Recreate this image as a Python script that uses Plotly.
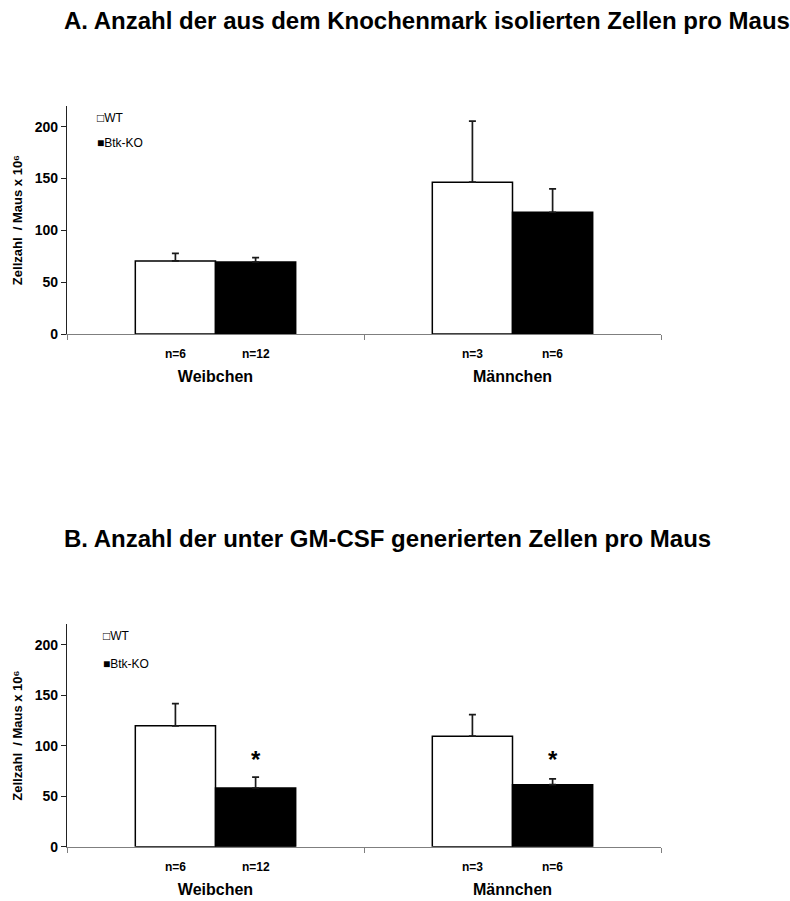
import plotly.graph_objects as go

# ---------------- data ----------------
categories = ["Weibchen", "Männchen"]
group_names = ["WT", "Btk-KO"]
legend_marks = ["□", "■"]

# Panel A: Anzahl der aus dem Knochenmark isolierten Zellen pro Maus
a_wt = [70.5, 146.5]
a_wt_err = [7.3, 59.0]
a_ko = [69.5, 117.5]
a_ko_err = [4.2, 22.5]
a_n_wt = ["n=6", "n=3"]
a_n_ko = ["n=12", "n=6"]

# Panel B: Anzahl der unter GM-CSF generierten Zellen pro Maus
b_wt = [119.6, 109.4]
b_wt_err = [22.0, 21.3]
b_ko = [58.1, 61.4]
b_ko_err = [10.8, 5.8]
b_n_wt = ["n=6", "n=3"]
b_n_ko = ["n=12", "n=6"]
b_sig_ko = ["*", "*"]
star_level = 94

y_ticks = [0, 50, 100, 150, 200]
y_max = 220

title_a = "A. Anzahl der aus dem Knochenmark isolierten Zellen pro Maus"
title_b = "B. Anzahl der unter GM-CSF generierten Zellen pro Maus"
y_title = "Zellzahl  / Maus x 10⁶"

# ---------------- figure ----------------
W, H = 790, 901
FONT = "Arial, Liberation Sans, sans-serif"

fig = go.Figure()

def px_x(p):
    return p / W

def px_y(p):
    return 1 - p / H

panels = [
    dict(xa="x", ya="y", wt=a_wt, wte=a_wt_err, ko=a_ko, koe=a_ko_err,
         nwt=a_n_wt, nko=a_n_ko, sig=None),
    dict(xa="x2", ya="y2", wt=b_wt, wte=b_wt_err, ko=b_ko, koe=b_ko_err,
         nwt=b_n_wt, nko=b_n_ko, sig=b_sig_ko),
]

fills = ["white", "black"]

for p in panels:
    for gi, (vals, errs) in enumerate([(p["wt"], p["wte"]), (p["ko"], p["koe"])]):
        fig.add_trace(go.Bar(
            x=categories, y=vals, name=group_names[gi],
            xaxis=p["xa"], yaxis=p["ya"],
            marker=dict(color=fills[gi], line=dict(color="black", width=1.5)),
            error_y=dict(type="data", symmetric=False, array=errs,
                         arrayminus=[0] * len(errs), color="#1a1a1a",
                         thickness=1.7, width=3.5),
            showlegend=False,
        ))

bar_half = 40  # pixel offset of group bar centres from the category centre

annotations = []
for p in panels:
    for ci, cat in enumerate(categories):
        annotations.append(dict(xref=p["xa"], yref=p["ya"], x=cat, y=0, yshift=-20,
                                xshift=-bar_half, text=p["nwt"][ci], showarrow=False,
                                font=dict(size=12, family=FONT, color="black", weight="bold")))
        annotations.append(dict(xref=p["xa"], yref=p["ya"], x=cat, y=0, yshift=-20,
                                xshift=bar_half, text=p["nko"][ci], showarrow=False,
                                font=dict(size=12, family=FONT, color="black", weight="bold")))
        if p["sig"]:
            annotations.append(dict(xref=p["xa"], yref=p["ya"], x=cat, y=star_level,
                                    yshift=-8, xshift=bar_half, text=p["sig"][ci],
                                    showarrow=False,
                                    font=dict(size=24, family=FONT, color="black", weight="bold")))

# titles
annotations.append(dict(xref="paper", yref="paper", x=px_x(62), y=px_y(20.5), xanchor="left",
                        yanchor="middle", text=title_a, showarrow=False,
                        font=dict(size=24, family=FONT, color="black", weight="bold")))
annotations.append(dict(xref="paper", yref="paper", x=px_x(62), y=px_y(543), xanchor="left",
                        yanchor="middle", text=title_b, showarrow=False,
                        font=dict(size=24, family=FONT, color="black", weight="bold")))

# legend (text-based, one per panel)
legend_pos = [(95, 119, 144), (101, 642, 670)]
for (lx, ly1, ly2) in legend_pos:
    for gi, ly in enumerate([ly1, ly2]):
        annotations.append(dict(xref="paper", yref="paper", x=px_x(lx), y=px_y(ly),
                                xanchor="left", yanchor="middle",
                                text=legend_marks[gi] + group_names[gi],
                                showarrow=False,
                                font=dict(size=12, family=FONT, color="black")))

xaxis_style = dict(type="category", categoryorder="array", categoryarray=categories,
                   range=[-0.5, 1.5], tickson="boundaries", ticks="outside", ticklen=5,
                   tickcolor="#7f7f7f", showticklabels=True, ticklabelstandoff=28,
                   tickfont=dict(size=16, family=FONT, color="black", weight="bold"),
                   showline=True, linecolor="#7f7f7f", linewidth=1.2, showgrid=False,
                   zeroline=False, fixedrange=True)
yaxis_style = dict(range=[0, y_max], tickvals=y_ticks, ticks="outside", ticklen=5,
                   tickcolor="#222222", showline=True, linecolor="#222222", linewidth=1.2,
                   showgrid=False, zeroline=False,
                   tickfont=dict(size=14, family=FONT, color="black", weight="bold"),
                   title=dict(text=y_title, standoff=9,
                              font=dict(size=13, family=FONT, color="black", weight="bold")))

fig.update_layout(
    width=W, height=H,
    margin=dict(l=0, r=0, t=0, b=0),
    paper_bgcolor="white", plot_bgcolor="white",
    barmode="group", bargap=0.46, bargroupgap=0,
    showlegend=False,
    xaxis=dict(domain=[px_x(67), px_x(661)], anchor="y", **xaxis_style),
    yaxis=dict(domain=[px_y(337), px_y(107)], anchor="x", **yaxis_style),
    xaxis2=dict(domain=[px_x(67), px_x(661)], anchor="y2", **xaxis_style),
    yaxis2=dict(domain=[px_y(854.3), px_y(630)], anchor="x2", **yaxis_style),
    annotations=annotations,
)

fig.write_html("out.html")
